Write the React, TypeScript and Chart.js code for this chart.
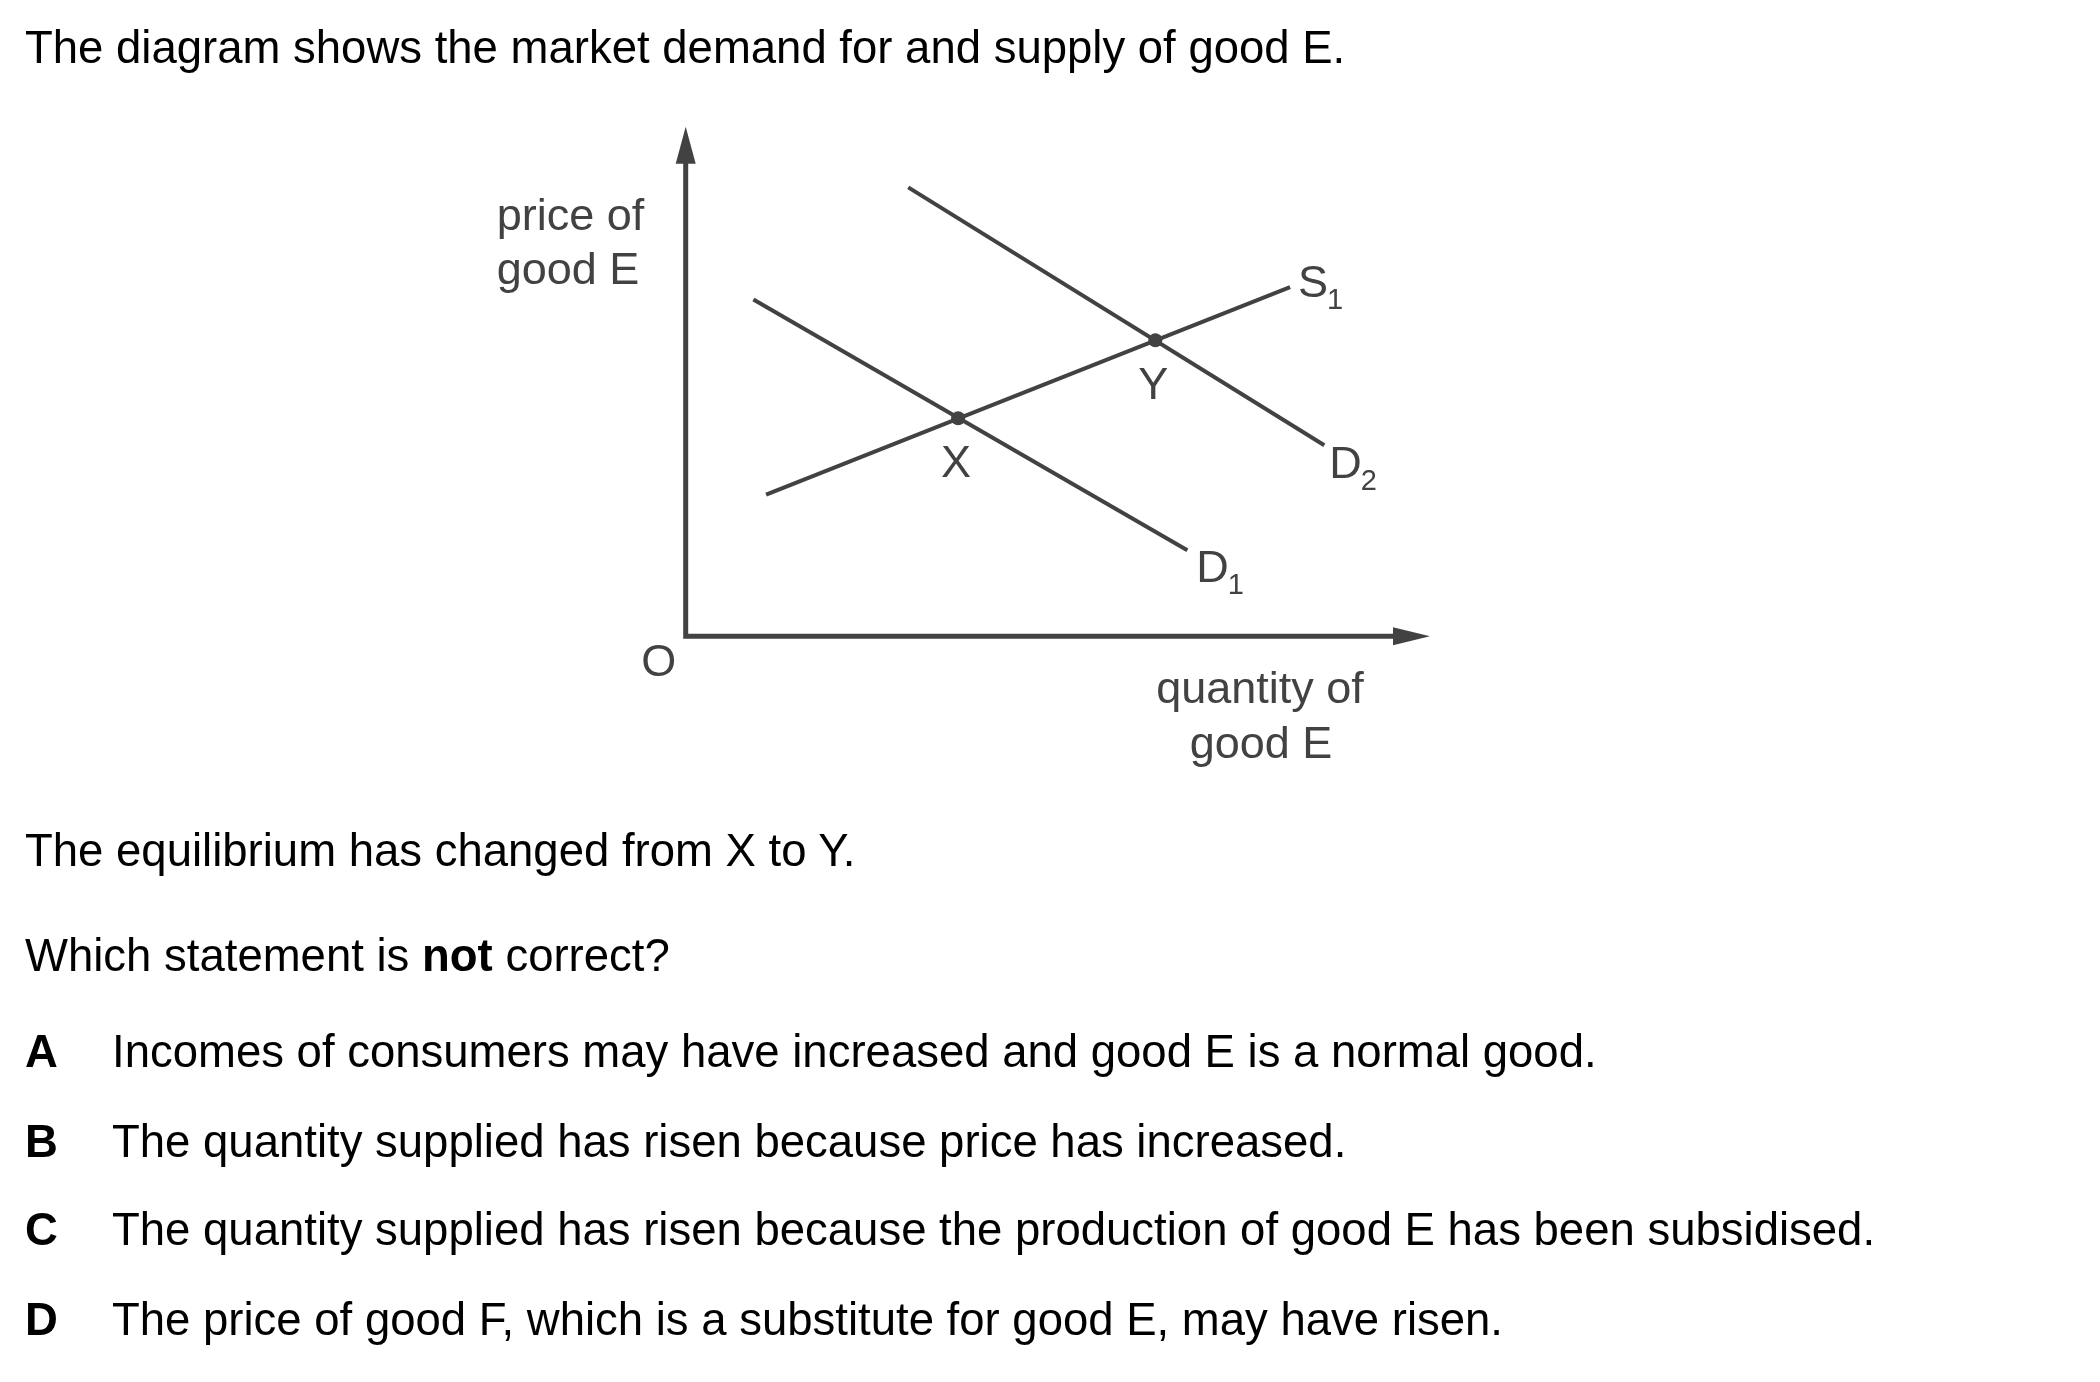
import React, { useEffect, useRef } from "react";
import { Chart, registerables } from "chart.js";

Chart.register(...registerables);

// ---------- data ----------
const axisRange = { xMin: 0, xMax: 10, yMin: 0, yMax: 10 };
const demand1 = [{ x: 0.91, y: 6.61 }, { x: 6.74, y: 1.69 }];
const demand2 = [{ x: 2.99, y: 8.81 }, { x: 8.58, y: 3.75 }];
const supply1 = [{ x: 1.08, y: 2.78 }, { x: 8.12, y: 6.85 }];
const equilibriumPoints = [{ x: 3.66, y: 4.28 }, { x: 6.31, y: 5.81 }];
const equilibriumLabels = ["X", "Y"];
const curveLabels = [
  { main: "D", sub: "1" },
  { main: "D", sub: "2" },
  { main: "S", sub: "1" },
];
const yAxisTitle = ["price of", "good E"];
const xAxisTitle = ["quantity of", "good E"];
const originLabel = "O";

const titleText = "The diagram shows the market demand for and supply of good E.";
const statementText = "The equilibrium has changed from X to Y.";
const questionParts = ["Which statement is ", "not", " correct?"];
const optionLetters = ["A", "B", "C", "D"];
const optionTexts = [
  "Incomes of consumers may have increased and good E is a normal good.",
  "The quantity supplied has risen because price has increased.",
  "The quantity supplied has risen because the production of good E has been subsidised.",
  "The price of good F, which is a substitute for good E, may have risen.",
];

// ---------- style ----------
const INK = "#424242";
const FONT = '"Liberation Sans", Arial, Helvetica, sans-serif';
const LABEL_FONT = `45px ${FONT}`;
const SUB_FONT = `29px ${FONT}`;

// label offsets (pixels) from curve end points
const curveLabelOffsets = [
  { dx: 9, dy: 32 },
  { dx: 5, dy: 33 },
  { dx: 8, dy: 10 },
];

const diagramPlugin = {
  id: "diagram",
  beforeDatasetsDraw(chart: any) {
    const ctx = chart.ctx;
    const xs = chart.scales.x;
    const ys = chart.scales.y;
    const ox = xs.getPixelForValue(axisRange.xMin);
    const oy = ys.getPixelForValue(axisRange.yMin);
    const xe = xs.getPixelForValue(axisRange.xMax);
    const yt = ys.getPixelForValue(axisRange.yMax);
    const headLen = 37;
    const headHalf = 10;
    ctx.save();
    ctx.strokeStyle = INK;
    ctx.fillStyle = INK;
    ctx.lineWidth = 5;
    ctx.lineJoin = "miter";
    ctx.lineCap = "butt";
    ctx.beginPath();
    ctx.moveTo(ox, yt + headLen - 2);
    ctx.lineTo(ox, oy);
    ctx.lineTo(xe - headLen + 2, oy);
    ctx.stroke();
    // arrow heads
    ctx.beginPath();
    ctx.moveTo(ox, yt);
    ctx.lineTo(ox - headHalf, yt + headLen);
    ctx.lineTo(ox + headHalf, yt + headLen);
    ctx.closePath();
    ctx.fill();
    ctx.beginPath();
    ctx.moveTo(xe, oy);
    ctx.lineTo(xe - headLen, oy - headHalf + 1);
    ctx.lineTo(xe - headLen, oy + headHalf - 1);
    ctx.closePath();
    ctx.fill();
    ctx.restore();
  },
  afterDatasetsDraw(chart: any) {
    const ctx = chart.ctx;
    const xs = chart.scales.x;
    const ys = chart.scales.y;
    const ox = xs.getPixelForValue(axisRange.xMin);
    const oy = ys.getPixelForValue(axisRange.yMin);
    const xe = xs.getPixelForValue(axisRange.xMax);
    const yt = ys.getPixelForValue(axisRange.yMax);
    ctx.save();
    ctx.fillStyle = INK;
    ctx.textBaseline = "alphabetic";

    // curve labels with subscripts
    const curves = [demand1, demand2, supply1];
    curves.forEach((c, i) => {
      const end = c[c.length - 1];
      const px = xs.getPixelForValue(end.x) + curveLabelOffsets[i].dx;
      const py = ys.getPixelForValue(end.y) + curveLabelOffsets[i].dy;
      ctx.font = LABEL_FONT;
      ctx.textAlign = "left";
      ctx.fillText(curveLabels[i].main, px, py);
      const w = ctx.measureText(curveLabels[i].main).width;
      ctx.font = SUB_FONT;
      ctx.fillText(curveLabels[i].sub, px + w - 1, py + 12);
    });

    // equilibrium labels
    ctx.font = LABEL_FONT;
    ctx.textAlign = "center";
    equilibriumPoints.forEach((p, i) => {
      ctx.fillText(
        equilibriumLabels[i],
        xs.getPixelForValue(p.x) - 2,
        ys.getPixelForValue(p.y) + 59
      );
    });

    // origin
    ctx.fillText(originLabel, ox - 27, oy + 40);

    // axis titles
    ctx.textAlign = "left";
    ctx.fillText(yAxisTitle[0], ox - 189, yt + 103);
    ctx.fillText(yAxisTitle[1], ox - 189, yt + 157);
    ctx.textAlign = "center";
    ctx.fillText(xAxisTitle[0], xe - 170, oy + 67);
    ctx.fillText(xAxisTitle[1], xe - 169, oy + 122);
    ctx.restore();
  },
};

function Line({
  top,
  left,
  children,
}: {
  top: number;
  left: number;
  children: React.ReactNode;
}) {
  return (
    <div
      style={{
        position: "absolute",
        top,
        left,
        fontFamily: FONT,
        fontSize: 45.5,
        lineHeight: "45px",
        color: "#000",
        whiteSpace: "nowrap",
      }}
    >
      {children}
    </div>
  );
}

export default function App() {
  const canvasRef = useRef<HTMLCanvasElement | null>(null);

  useEffect(() => {
    const canvas = canvasRef.current;
    if (!canvas) return;
    const lineDs = (data: any[]) => ({
      data,
      showLine: true,
      borderColor: INK,
      backgroundColor: INK,
      borderWidth: 4,
      pointRadius: 0,
      fill: false,
      clip: false as any,
    });
    const chart = new Chart(canvas, {
      type: "scatter",
      data: {
        datasets: [
          lineDs(demand1),
          lineDs(demand2),
          lineDs(supply1),
          {
            data: equilibriumPoints,
            showLine: false,
            pointRadius: 7,
            pointBackgroundColor: INK,
            pointBorderWidth: 0,
            clip: false as any,
          } as any,
        ],
      },
      options: {
        animation: false,
        responsive: false,
        maintainAspectRatio: false,
        devicePixelRatio: 1,
        layout: {
          padding: { left: 685.7, top: 126.7, right: 670, bottom: 745.7 },
        },
        plugins: {
          legend: { display: false },
          title: { display: false },
          tooltip: { enabled: false },
        },
        events: [],
        scales: {
          x: {
            type: "linear",
            min: axisRange.xMin,
            max: axisRange.xMax,
            display: false,
          },
          y: {
            type: "linear",
            min: axisRange.yMin,
            max: axisRange.yMax,
            display: false,
          },
        },
      },
      plugins: [diagramPlugin],
    });
    return () => chart.destroy();
  }, []);

  const optionBaselines = [1067, 1157, 1245, 1335];

  return (
    <div
      style={{
        position: "absolute",
        left: 0,
        top: 0,
        width: 2100,
        height: 1382,
        background: "#fff",
        overflow: "hidden",
      }}
    >
      <canvas
        ref={canvasRef}
        width={2100}
        height={1382}
        style={{ position: "absolute", left: 0, top: 0 }}
      />
      <Line top={24.5} left={25}>
        {titleText}
      </Line>
      <Line top={828} left={25}>
        {statementText}
      </Line>
      <Line top={933} left={25}>
        {questionParts[0]}
        <b>{questionParts[1]}</b>
        {questionParts[2]}
      </Line>
      {optionLetters.map((l, i) => (
        <React.Fragment key={l}>
          <Line top={optionBaselines[i] - 38} left={25}>
            <b>{l}</b>
          </Line>
          <Line top={optionBaselines[i] - 38} left={112}>
            {optionTexts[i]}
          </Line>
        </React.Fragment>
      ))}
    </div>
  );
}
